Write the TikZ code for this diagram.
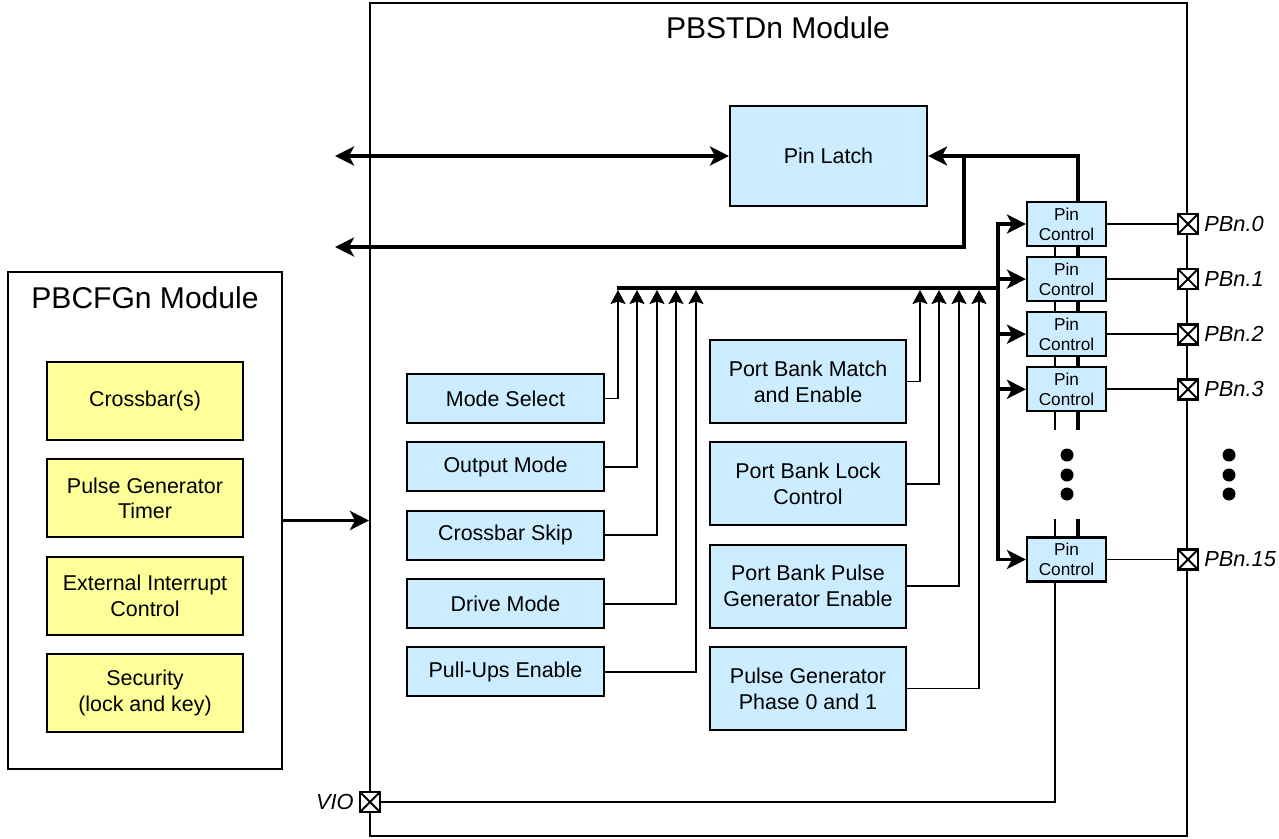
\documentclass[tikz,border=0pt]{standalone}
\usepackage{fontspec}
\setmainfont{Liberation Sans}
\usetikzlibrary{arrows.meta,positioning}

\definecolor{boxblue}{RGB}{204,236,255}
\definecolor{boxyellow}{RGB}{255,255,153}

\begin{document}
\begin{tikzpicture}[x=0.02cm,y=-0.02cm,node distance=3.45mm,
  blk/.style={draw,line width=1.2pt,fill=boxblue,align=center,font=\fontsize{12.2}{14.7}\selectfont,minimum width=3.94cm,inner sep=0pt},
  lbox/.style={blk,minimum height=0.98cm},
  rbox/.style={blk,minimum width=3.92cm,minimum height=1.66cm},
  ybox/.style={blk,fill=boxyellow,minimum width=3.92cm,minimum height=1.56cm},
  pinctl/.style={blk,minimum width=1.58cm,minimum height=0.88cm,font=\fontsize{9.8}{11.3}\selectfont},
  module/.style={draw,line width=1.2pt,inner sep=0pt},
  pad/.style={draw,line width=1.5pt,fill=white,minimum size=0.4cm,inner sep=0pt,
    path picture={\draw[line width=1.1pt] (path picture bounding box.north west)--(path picture bounding box.south east)
      (path picture bounding box.north east)--(path picture bounding box.south west);}},
  padlbl/.style={font=\itshape\fontsize{12.4}{14}\selectfont,inner sep=1pt},
  bus/.style={line width=2.2pt},
  barr/.style={bus,-{Stealth[length=0.38cm,width=0.38cm,inset=0.1cm]}},
  darr/.style={bus,{Stealth[length=0.38cm,width=0.38cm,inset=0.1cm]}-{Stealth[length=0.38cm,width=0.38cm,inset=0.1cm]}},
  sig/.style={line width=1.1pt},
  sarr/.style={sig,-{Stealth[length=0.28cm,width=0.3cm,inset=0.05cm]}}]
\useasboundingbox (0,0) rectangle (1279,839);

% modules
\node[module,minimum width=16.34cm,minimum height=16.66cm] (pbstd) at (778.5,419.5) {};
\node[font=\fontsize{17.1}{20}\selectfont] (pbstdt) at (778,28) {PBSTDn Module};
\node[module,minimum width=5.48cm,minimum height=9.94cm] (pbcfg) at (145,520.5) {};
\node[font=\fontsize{17.1}{20}\selectfont] (pbcfgt) at (145,298) {PBCFGn Module};

% PBCFGn contents
\node[ybox] (xbar) at (145,401) {Crossbar(s)};
\node[ybox,below=of xbar] (pgtimer) {Pulse Generator\\Timer};
\node[ybox,below=of pgtimer] (extint) {External Interrupt\\Control};
\node[ybox,below=of extint] (secur) {Security\\(lock and key)};

% left column
\node[lbox] (modesel) at (505.5,398.5) {Mode Select};
\node[lbox,below=of modesel] (outmode) {Output Mode};
\node[lbox,below=of outmode] (xbskip) {Crossbar Skip};
\node[lbox,below=of xbskip] (drvmode) {Drive Mode};
\node[lbox,below=of drvmode] (pullup) {Pull-Ups Enable};

% right column
\node[rbox] (pbmatch) at (808,381.5) {Port Bank Match\\and Enable};
\node[rbox,below=of pbmatch] (pblock) {Port Bank Lock\\Control};
\node[rbox,below=of pblock] (pbpulse) {Port Bank Pulse\\Generator Enable};
\node[rbox,below=of pbpulse] (pgphase) {Pulse Generator\\Phase 0 and 1};

% latch and pin controls
\node[blk,minimum height=2cm] (latch) at (828.5,156) {Pin Latch};
\node[pinctl] (pc0) at (1066.5,224) {Pin\\Control};
\node[pinctl,below=1.8mm of pc0] (pc1) {Pin\\Control};
\node[pinctl,below=1.8mm of pc1] (pc2) {Pin\\Control};
\node[pinctl,below=1.8mm of pc2] (pc3) {Pin\\Control};
\node[pinctl] (pc15) at (1066.5,559.5) {Pin\\Control};

% internal bus
\coordinate (busL) at (617,288);
\coordinate (busR) at (998,288);
\draw[bus] (busL) -- (busR);
\foreach \n/\x in {modesel/618,outmode/637,xbskip/657,drvmode/676,pullup/696,pbmatch/920,pblock/939,pbpulse/959,pgphase/979} {
  \coordinate (t-\n) at (\x,290);
  \draw[sarr] (\n.east) -| (t-\n);
}
\draw[barr] (busR |- pc15.west) -- (busR |- pc0.west) -- (pc0.west);
\draw[barr] (busR |- pc0.west) -- (busR |- pc15.west) -- (pc15.west);

% pins
\foreach \i in {0,1,2,3,15} {
  \node[pad] (pad\i) at (pc\i.east -| pbstd.east) {};
  \node[padlbl,right=0.6mm of pad\i] (lbl\i) {PBn.\i};
  \draw[sig] (pc\i) -- (pad\i);
}
\foreach \i in {1,2} \draw[barr] (busR |- pc\i.west) -- (pc\i.west);
\draw[barr] (busR |- pc3.west) -- (pc3.west);
\foreach \a/\b in {pc0/pc1,pc1/pc2,pc2/pc3} {
  \draw[sig] ([xshift=-0.23cm]\a.south) -- ([xshift=-0.23cm]\b.north);
  \draw[bus] ([xshift=0.23cm]\a.south) -- ([xshift=0.23cm]\b.north);
}
\draw[sig] ([xshift=-0.23cm]pc3.south) -- ++(0,18);
\draw[bus] ([xshift=0.23cm]pc3.south) -- ++(0,18);
\draw[sig] ([xshift=-0.23cm]pc15.north) -- ++(0,-17);
\draw[bus] ([xshift=0.23cm]pc15.north) -- ++(0,-17);
\foreach \y in {455,475,494} {
  \fill (1067,\y) circle (0.13cm);
  \fill (1229,\y) circle (0.13cm);
}

% latch paths
\coordinate (extL) at (335,156);
\coordinate (jn) at (964,156);
\coordinate (extR) at (335,247);
\draw[darr] (extL) -- (latch.west);
\draw[barr] ([xshift=0.23cm]pc0.north) |- (latch.east);
\draw[barr] (jn) |- (extR);

% VIO and config
\node[pad] (vio) at (370,802) {};
\node[padlbl,left=0.6mm of vio] (violbl) {VIO};
\draw[sig] ([xshift=-0.23cm]pc15.south) |- (vio.east);
\draw[barr] (pbcfg.east) -- (pbcfg.east -| pbstd.west);
\end{tikzpicture}
\end{document}
